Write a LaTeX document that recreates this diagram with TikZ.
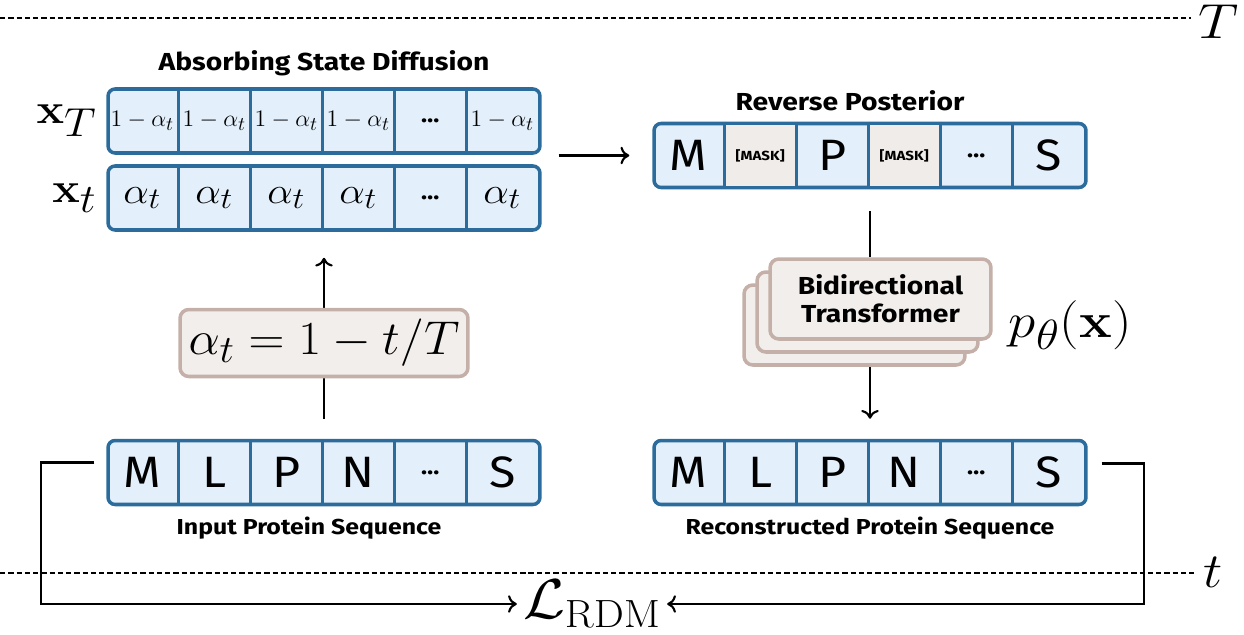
\RequirePackage{fix-cm}
\documentclass[tikz,border=0pt]{standalone}
\usepackage{amsmath}
\usepackage{graphicx}
\usepackage[no-math]{fontspec}
\newfontfamily\seqfont[FakeStretch=1.1]{Fira Sans}
\newfontfamily\titlefont[FakeStretch=1.15]{Fira Sans}
\usetikzlibrary{positioning, calc, arrows.meta}

% large subscripts, as in the figure
\DeclareMathSizes{24}{24}{23}{17}
\DeclareMathSizes{21}{21}{17}{12}
\DeclareMathSizes{13.5}{13.5}{11}{8}
\DeclareMathSizes{27}{27}{22}{16}
\DeclareMathSizes{28}{28}{24}{18}
\newcommand{\wider}[2][1.1]{\scalebox{#1}[1]{#2}}

\definecolor{seqblue}{HTML}{2B6C9C}
\definecolor{seqfill}{HTML}{E3F0FB}
\definecolor{maskfill}{HTML}{F0ECE9}
\definecolor{boxline}{HTML}{C4B0A8}
\definecolor{boxfill}{HTML}{F2EEEB}

\tikzset{
  seq/.style={draw=seqblue, line width=2pt, fill=seqfill, rounded corners=4pt,
    minimum width=8.64cm, minimum height=1.28cm, inner sep=0pt},
  divider/.style={draw=seqblue, line width=2pt},
  title/.style={font=\titlefont\bfseries\fontsize{14}{16}\selectfont, inner sep=2pt},
  subtitle/.style={font=\titlefont\bfseries\fontsize{12.3}{14}\selectfont, inner sep=2pt},
  letter/.style={font=\seqfont\fontsize{25}{27}\selectfont, inner sep=0pt},
  dots/.style={font=\seqfont\bfseries\fontsize{13}{14}\selectfont, inner sep=0pt},
  masktok/.style={font=\titlefont\bfseries\fontsize{7.5}{8}\selectfont, inner sep=0pt},
  tfbox/.style={draw=boxline, line width=2pt, fill=boxfill, rounded corners=5pt,
    minimum width=4.42cm, minimum height=1.6cm},
  flow/.style={line width=1.2pt, -{Computer Modern Rightarrow[length=5pt, width=10pt]}},
  conn/.style={line width=1.2pt},
  timeline/.style={line width=1.2pt, dash pattern=on 3pt off 1.7pt},
}

\begin{document}
\begin{tikzpicture}[x=0.02cm, y=-0.02cm]
  \useasboundingbox (0,0) rectangle (1244,635);

  % time axis
  \node[font=\fontsize{28}{30}\selectfont, inner sep=0pt] (Tlab) at (1219,22) {\wider[1.15]{$T$}};
  \node[font=\fontsize{28}{30}\selectfont, inner sep=0pt] (tlab) at (1213,572) {\wider{$t$}};
  \coordinate (Tstart) at (0,18);
  \coordinate (tstart) at (0,573);
  \draw[timeline] (Tstart) -- ($(Tstart -| Tlab.west)+(-8,0)$);
  \draw[timeline] (tstart) -- ($(tstart -| tlab.west)+(-8,0)$);

  % forward diffusion
  \node[seq] (xT) at (324,121) {};
  \node[seq] (xt) at (324,198) {};
  \node[title, above=4pt of xT] (fwdtitle) {Absorbing State Diffusion};
  \node[left=2pt of xT, font=\fontsize{24}{26}\selectfont] (xTlab) {\wider{$\mathbf{x}_T$}};
  \node[left=2pt of xt, font=\fontsize{24}{26}\selectfont] (xtlab) {\wider{$\mathbf{x}_t$}};
  \foreach \i in {1,2,3,4,6}
    \node[font=\fontsize{13.5}{15}\selectfont, inner sep=0pt] at ($(xT.west)+(\i*72-36,0)$) {$1-\alpha_t$};
  \foreach \i in {1,2,3,4,6}
    \node[font=\fontsize{21}{23}\selectfont, inner sep=0pt] at ($(xt.west)+(\i*72-36,0)$) {\wider{$\alpha_t$}};
  \node[dots] at ($(xT.west)+(324,0)$) {…};
  \node[dots] at ($(xt.west)+(324,0)$) {…};

  % reverse posterior
  \node[seq] (post) at (870,155.5) {};
  \node[title, above=4pt of post, xshift=-0.4cm] (revtitle) {Reverse Posterior};
  \foreach \i in {1,3}
    \fill[maskfill] ($(post.north west)+(\i*72,3.6)$) rectangle ($(post.south west)+(\i*72+72,-3.6)$);
  \foreach \tok [count=\i] in {M,,P,,,S}
    \node[letter] at ($(post.west)+(\i*72-36,0)$) {\tok};
  \foreach \i in {2,4}
    \node[masktok] at ($(post.west)+(\i*72-36,0)$) {[MASK]};
  \node[dots] at ($(post.west)+(324,0)$) {…};

  % input and reconstruction
  \node[seq] (inp) at (324,472.5) {};
  \node[seq] (rec) at (870,472.5) {};
  \node[subtitle, below=4pt of inp, xshift=-0.3cm] (inptitle) {Input Protein Sequence};
  \node[subtitle, below=4pt of rec] (rectitle) {Reconstructed Protein Sequence};
  \foreach \r in {inp,rec} {
    \foreach \tok [count=\i] in {M,L,P,N,,S}
      \node[letter] at ($(\r.west)+(\i*72-36,0)$) {\tok};
    \node[dots] at ($(\r.west)+(324,0)$) {…};
  }

  % cell borders
  \foreach \r in {xT,xt,post,inp,rec}
    \foreach \i in {1,...,5}
      \draw[divider] ($(\r.north west)+(\i*72,0)$) -- ($(\r.south west)+(\i*72,0)$);

  % noise schedule
  \draw[flow] ($(inp.north)+(0,-20)$) -- ($(xt.south)+(0,26)$);
  \node[tfbox, minimum width=5.76cm, minimum height=1.34cm, font=\fontsize{27}{30}\selectfont]
    (alpha) at (324,343) {\wider[1.05]{$\alpha_t = 1 - t/T$}};

  % denoising model
  \draw[flow] ($(xT.east |- post.west)+(17,0)$) -- ($(post.west)+(-23,0)$);
  \node[tfbox] (tf3) at (854.5,325) {};
  \node[tfbox] (tf2) at ($(tf3)+(13,-13)$) {};
  \node[tfbox, align=center, font=\titlefont\bfseries\fontsize{14}{16}\selectfont] (tf) at ($(tf2)+(13,-13)$)
    {Bidirectional\\Transformer};
  \node[font=\fontsize{28}{30}\selectfont, anchor=west] (ptheta) at ($(tf.east)+(10,26)$) {\wider[1.12]{$p_\theta(\mathbf{x})$}};
  \draw[conn] ($(post.south)+(0,22)$) -- (post.south |- tf.north);
  \draw[flow] (post.south |- tf3.south) -- ($(rec.north)+(0,-20)$);

  % loss
  \node[font=\fontsize{32}{34}\selectfont] (loss) at (592,604) {\wider[1.08]{$\mathcal{L}_{\mathrm{RDM}}$}};
  \draw[flow] ($(inp.west)+(-12,-10)$) -- ++(-53,0) |- (loss.west);
  \draw[flow] ($(rec.east)+(14,-9)$) -- ++(42,0) |- (loss.east);
\end{tikzpicture}
\end{document}
